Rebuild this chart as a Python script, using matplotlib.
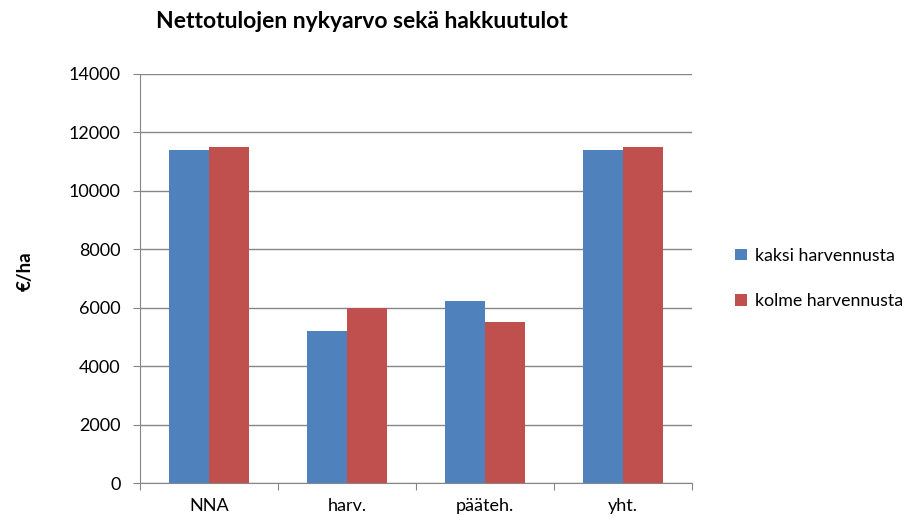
import matplotlib
matplotlib.use('Agg')
import matplotlib.pyplot as plt
import numpy as np

categories = ['NNA', 'harv.', 'pääteh.', 'yht.']
kaksi = [11390, 5200, 6220, 11390]
kolme = [11480, 6000, 5490, 11480]
series_names = ['kaksi harvennusta', 'kolme harvennusta']

plt.rcParams['font.family'] = ['Lato', 'DejaVu Sans']

fig = plt.figure(figsize=(9.16, 5.21), dpi=100)
ax = fig.add_axes([140/916, 1-483/521, 552/916, (483-73.7)/521])

x = np.arange(len(categories))
w = 0.29
ax.bar(x - w/2, kaksi, w, color='#4f81bd', label=series_names[0], zorder=3)
ax.bar(x + w/2, kolme, w, color='#c0504d', label=series_names[1], zorder=3)

ax.set_xlim(-0.5, len(categories) - 0.5)
ax.set_ylim(0, 14000)
ax.set_yticks(np.arange(0, 14001, 2000))
ax.yaxis.grid(True, color='#868686', linewidth=1, zorder=0)

# category labels between the boundary ticks
ax.set_xticks(np.arange(-0.5, len(categories), 1.0))
ax.set_xticklabels([])
ax.set_xticks(x, minor=True)
ax.set_xticklabels(categories, minor=True)
ax.tick_params(axis='x', which='minor', length=0, pad=11, labelsize=13)
ax.tick_params(axis='x', which='major', length=5, color='#868686')
ax.tick_params(axis='y', length=5, color='#868686', labelsize=13, pad=9)

for s in ['top', 'right']:
    ax.spines[s].set_visible(False)
for s in ['left', 'bottom']:
    ax.spines[s].set_color('#868686')

fig.text(25/916, 1-271/521, '€/ha', rotation=90, ha='center', va='center',
         fontsize=13.5, fontweight='bold')
fig.text(362/916, 1-22/521, 'Nettotulojen nykyarvo sekä hakkuutulot',
         ha='center', va='center', fontsize=16.5, fontweight='bold')

ax.legend(loc='center left', bbox_to_anchor=(1.065, 0.5), frameon=False,
          fontsize=12.8, handlelength=0.65, handleheight=0.65, labelspacing=1.65,
          handletextpad=0.45, borderaxespad=0)

fig.savefig('out.png', dpi=100)
